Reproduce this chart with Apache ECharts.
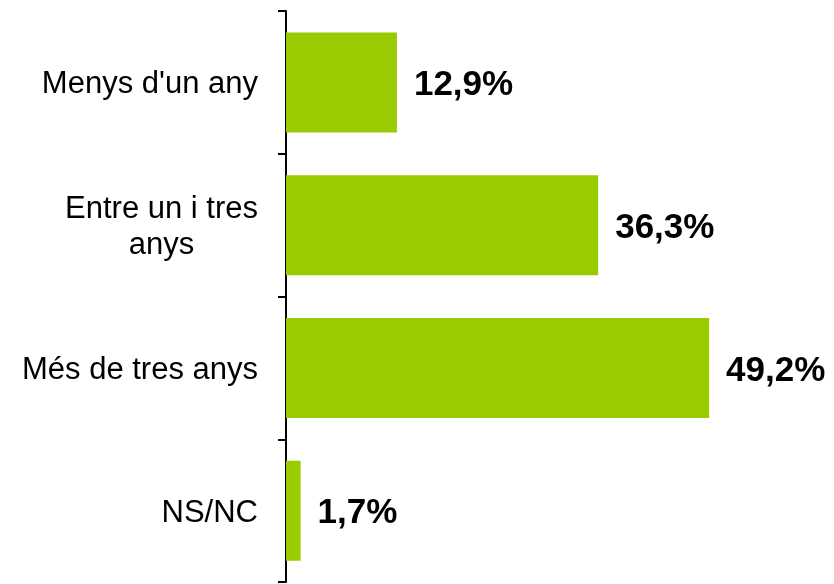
<!DOCTYPE html>
<html>
<head>
<meta charset="utf-8">
<script src="https://cdn.jsdelivr.net/npm/echarts@6/dist/echarts.min.js"></script>
<style>html,body{margin:0;padding:0;background:#fff;}#c{width:834px;height:584px;}</style>
</head>
<body>
<div id="c"></div>
<script>
const categories = ["Menys d'un any", "Entre un i tres\nanys", "Més de tres anys", "NS/NC"];
const values = [12.9, 36.3, 49.2, 1.7];

const chart = echarts.init(document.getElementById('c'), null, {renderer: 'canvas'});
chart.setOption({
  animation: false,
  backgroundColor: '#ffffff',
  grid: {left: 286, right: 32, top: 11, bottom: 2, containLabel: false},
  xAxis: {type: 'value', min: 0, max: 60, show: false},
  yAxis: {
    type: 'category',
    inverse: true,
    data: categories,
    axisLine: {show: true, lineStyle: {color: '#000', width: 2}},
    axisTick: {show: true, length: 8, lineStyle: {color: '#000', width: 2}},
    axisLabel: {
      margin: 28,
      padding: [5, 0, 0, 0],
      formatter: v => v.split('\n').map(s => '{c|' + s + '}').join('\n'),
      rich: {c: {align: 'center', fontSize: 31, fontFamily: 'Liberation Sans, Arial, sans-serif', color: '#000', lineHeight: 36}}
    }
  },
  series: [{
    type: 'bar',
    data: values,
    barWidth: 100,
    itemStyle: {color: '#99CC00'},
    label: {
      show: true,
      position: 'right',
      distance: 17,
      offset: [0, 3],
      formatter: p => p.value.toFixed(1).replace('.', ',') + '%',
      fontSize: 35,
      fontWeight: 'bold',
      fontFamily: 'Liberation Sans, Arial, sans-serif',
      color: '#000'
    }
  }]
});
</script>
</body>
</html>
